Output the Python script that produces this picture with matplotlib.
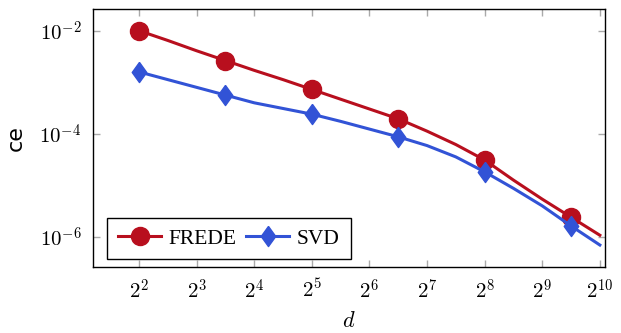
import numpy as np
import matplotlib
matplotlib.use("Agg")
import matplotlib.pyplot as plt

# d values on a half-octave grid, 2^2 .. 2^10
log2_d = [2.0, 2.5, 3.0, 3.5, 4.0, 4.5, 5.0, 5.5, 6.0, 6.5, 7.0, 7.5, 8.0, 8.5, 9.0, 9.5, 10.0]

# log10 of ce
frede_log = [-2.00, -2.19, -2.39, -2.58, -2.77, -2.95, -3.14, -3.33, -3.52, -3.71,
             -3.95, -4.21, -4.51, -4.90, -5.27, -5.62, -5.97]
svd_log = [-2.80, -2.95, -3.10, -3.25, -3.40, -3.51, -3.62, -3.76, -3.91, -4.06,
           -4.23, -4.45, -4.74, -5.06, -5.40, -5.79, -6.16]

xtick_exp = [2, 3, 4, 5, 6, 7, 8, 9, 10]
ytick_exp = [-2, -4, -6]

d = 2.0 ** np.array(log2_d)
frede = 10.0 ** np.array(frede_log)
svd = 10.0 ** np.array(svd_log)

plt.rcParams["mathtext.fontset"] = "cm"

red = "#b80f1e"
blue = "#3253d6"
diamond = [(0, 1), (0.72, 0), (0, -1), (-0.72, 0), (0, 1)]

fig = plt.figure(figsize=(6.21, 3.33), dpi=100)
ax = fig.add_axes([0.149, 0.198, 0.825, 0.775])

ax.plot(d, frede, color=red, lw=2.2, marker="o", markersize=13, markevery=3,
        label="FREDE")
ax.plot(d, svd, color=blue, lw=2.2, marker=diamond, markersize=14.5, markevery=3,
        label="SVD")

ax.set_xscale("log", base=2)
ax.set_yscale("log")
ax.set_xlim(2 ** 1.193, 2 ** 10.087)
ax.set_ylim(10 ** -6.588, 10 ** -1.579)

ax.set_xticks([2.0 ** e for e in xtick_exp])
ax.set_xticklabels([f"$2^{{{e}}}$" for e in xtick_exp])
ax.set_yticks([10.0 ** e for e in ytick_exp])
ax.set_yticklabels([f"$10^{{{e}}}$" for e in ytick_exp])
ax.minorticks_off()
ax.tick_params(which="both", direction="in", top=True, right=True, length=5,
               width=1, color="#aaaaaa", labelsize=15, pad=8)
for s in ax.spines.values():
    s.set_linewidth(1.0)

ax.set_xlabel("$d$", fontsize=16, labelpad=6)
ax.set_ylabel("ce", fontsize=16, labelpad=10)

leg = ax.legend(loc="lower left", bbox_to_anchor=(0.029, 0.03), borderaxespad=0,
                ncol=2, fancybox=False, edgecolor="black", framealpha=1,
                prop={"family": "Liberation Serif", "size": 15.5},
                handlelength=2.0, columnspacing=0.45, handletextpad=0.35,
                borderpad=0.5)
leg.get_frame().set_linewidth(1.0)

fig.savefig("out.png", dpi=100)
